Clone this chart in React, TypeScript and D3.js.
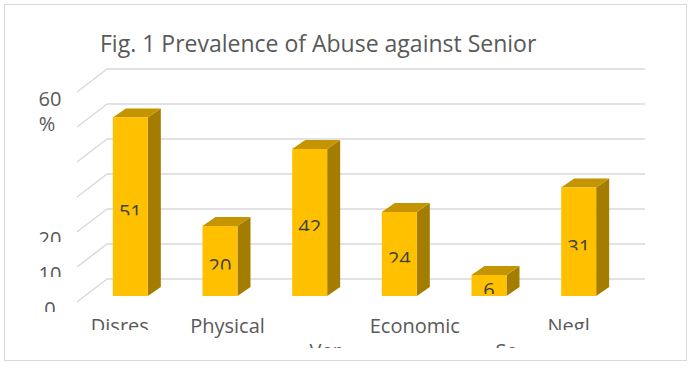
import React from "react";
import * as d3 from "d3";

// ---- data ----
const categories: string[] = ["Disres", "Physical", "Ver", "Economic", "Se", "Negl"];
const values: number[] = [51, 20, 42, 24, 6, 31];
const gridTicks: number[] = [0, 10, 20, 30, 40, 50, 60];
const axisLabelTicks: number[] = [0, 10, 20, 60];
const axisLabelText: string[] = ["0", "10", "20", "60 %"];
const title = "Fig. 1 Prevalence of Abuse against Senior";

// ---- layout ----
const W = 695;
const H = 370;
const FONT = "'Open Sans', sans-serif";
const TEXT = "#595959";
const LABEL = "#404040";
const GRID = "#D9D9D9";
const FLOOR = { dx: -30, dy: 23 }; // back wall -> front floor edge
const FRONT = { dx: -21.5, dy: 17 }; // back wall -> bar front plane
const DEPTH = { dx: 13, dy: -9 }; // bar depth
const BAR_W = 35;
// category label layout: row, clip bottom (null = no clip), nudge
const catRow = [0, 0, 1, 0, 1, 0];
const catClip: (number | null)[] = [330, null, 348, null, 348, 330];
const catNudge = [-2, 16, 24, 24, 26, -1.5];

export default function App() {
  const y = d3.scaleLinear().domain([0, 60]).range([279, 69]);
  const x = d3.scaleBand<string>().domain(categories).range([107, 645]);
  const bw = x.bandwidth();
  const fmt = d3.format("d");

  return (
    <svg
      width={W}
      height={H}
      style={{ position: "absolute", left: 0, top: 0, background: "#fff" }}
      fontFamily={FONT}
    >
      <defs>
        {values.map((v, i) => {
          const c = categories[i];
          const cx = (x(c) as number) + bw / 2 + FRONT.dx;
          const yt = y(v) + FRONT.dy;
          const yb = y(0) + FRONT.dy;
          const top = (yt + yb) / 2 - 2.5;
          return (
            <clipPath id={`dl${i}`} key={`dl${i}`}>
              <rect x={cx - 30} y={top - 4} width={60} height={15} />
            </clipPath>
          );
        })}
        {axisLabelTicks.map((t, i) => (
          <clipPath id={`al${i}`} key={`al${i}`}>
            <rect x={0} y={y(t) + FLOOR.dy - 4} width={100} height={t === 60 ? 60 : 14} />
          </clipPath>
        ))}
        {categories.map((c, i) => (
          <clipPath id={`cl${i}`} key={`cl${i}`}>
            <rect x={0} y={300} width={W} height={catClip[i] === null ? 60 : (catClip[i] as number) - 300} />
          </clipPath>
        ))}
      </defs>

      <rect x={4.5} y={4.5} width={682} height={356} fill="#fff" stroke={GRID} strokeWidth={1} />

      <text x={100} y={52} fontSize={23} fill={TEXT}>
        {title}
      </text>

      {/* gridlines: back wall and left-wall floor diagonals */}
      {gridTicks.map((t) => (
        <g key={`g${t}`} stroke={GRID} strokeWidth={1.5} fill="none">
          <line x1={x.range()[0]} x2={x.range()[1]} y1={y(t)} y2={y(t)} />
          <line x1={x.range()[0]} y1={y(t)} x2={x.range()[0] + FLOOR.dx} y2={y(t) + FLOOR.dy} />
        </g>
      ))}

      {/* value axis labels */}
      {axisLabelTicks.map((t, i) => {
        const lines = axisLabelText[i].split(" ");
        const top = y(t) + FLOOR.dy;
        return (
          <g key={`a${t}`} clipPath={`url(#al${i})`}>
            {lines.map((ln, j) => (
              <text
                key={j}
                x={j === 0 ? 50 : 47}
                y={top + 14.3 + j * 25}
                fontSize={20}
                fill={TEXT}
                textAnchor="middle"
              >
                {ln}
              </text>
            ))}
          </g>
        );
      })}

      {/* bars */}
      {values.map((v, i) => {
        const c = categories[i];
        const cx = (x(c) as number) + bw / 2 + FRONT.dx;
        const x0 = cx - BAR_W / 2;
        const x1 = cx + BAR_W / 2;
        const yt = y(v) + FRONT.dy;
        const yb = y(0) + FRONT.dy;
        const topPts = [
          [x0, yt],
          [x0 + DEPTH.dx, yt + DEPTH.dy],
          [x1 + DEPTH.dx, yt + DEPTH.dy],
          [x1, yt],
        ];
        const sidePts = [
          [x1, yt],
          [x1 + DEPTH.dx, yt + DEPTH.dy],
          [x1 + DEPTH.dx, yb + DEPTH.dy],
          [x1, yb],
        ];
        const labelTop = (yt + yb) / 2 - 2.5;
        return (
          <g key={`b${i}`}>
            <polygon points={sidePts.map((p) => p.join(",")).join(" ")} fill="#A47C00" />
            <polygon points={topPts.map((p) => p.join(",")).join(" ")} fill="#C49500" />
            <rect x={x0} y={yt} width={BAR_W} height={yb - yt} fill="#FFC000" />
            <g clipPath={`url(#dl${i})`}>
              <text x={cx} y={labelTop + 14.3} fontSize={20} fill={LABEL} textAnchor="middle">
                {fmt(v)}
              </text>
            </g>
          </g>
        );
      })}

      {/* category labels */}
      {categories.map((c, i) => {
        const cx = (x(c) as number) + bw / 2 + FLOOR.dx + catNudge[i];
        const baseline = 333 + catRow[i] * 24.5;
        return (
          <g key={`c${i}`} clipPath={`url(#cl${i})`}>
            <text x={cx} y={baseline} fontSize={20} fill={TEXT} textAnchor="middle">
              {c}
            </text>
          </g>
        );
      })}
    </svg>
  );
}
